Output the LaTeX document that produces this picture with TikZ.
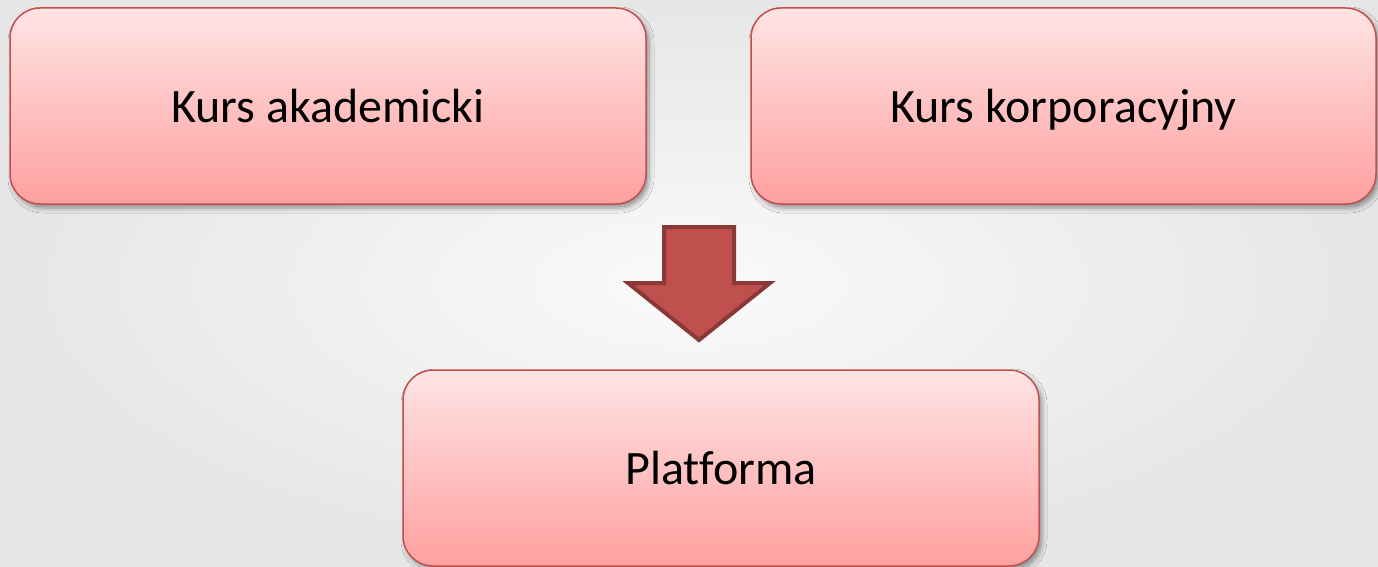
\documentclass[tikz,border=0pt]{standalone}
\usepackage{fontspec}
\setmainfont{Carlito}[Ligatures=NoCommon]
\usetikzlibrary{shadows.blur}
\definecolor{boxborder}{HTML}{C0504D}
\definecolor{boxtop}{HTML}{FFE4E4}
\definecolor{boxbot}{HTML}{FFA0A0}
\definecolor{arrowfill}{HTML}{C0504D}
\definecolor{arrowline}{HTML}{8C3836}
\definecolor{bgin}{HTML}{FAFAFA}
\definecolor{bgout}{HTML}{E6E6E6}
\tikzset{
  box/.style={draw=boxborder, line width=1.5pt, rounded corners=30pt,
    top color=boxtop, bottom color=boxbot,
    blur shadow={shadow xshift=3pt, shadow yshift=-4pt, shadow blur radius=5pt, shadow opacity=40},
    font=\fontsize{48}{57}\selectfont, text=black, minimum height=196pt,
    text height=37pt, text depth=4pt, inner sep=0pt},
  downarrow/.style={draw=arrowline, fill=arrowfill, line width=4pt, line join=miter}
}
\begin{document}
\begin{tikzpicture}[x=1pt,y=-1pt]
\useasboundingbox (0,0) rectangle (1378,567);
\shade[inner color=bgin, outer color=bgout] (0,0) rectangle (1378,567);
\node[box, minimum width=636pt] (akad) at (328,106) {Kurs akademicki};
\node[box, minimum width=625pt] (korp) at (1063.5,106) {Kurs korporacyjny};
\node[box, minimum width=636pt] (plat) at (721,468) {Platforma};
\draw[downarrow] (664,227) -- (734,227) -- (734,283) -- (770,283) -- (699,340)
  -- (628,283) -- (664,283) -- cycle;
\end{tikzpicture}
\end{document}
